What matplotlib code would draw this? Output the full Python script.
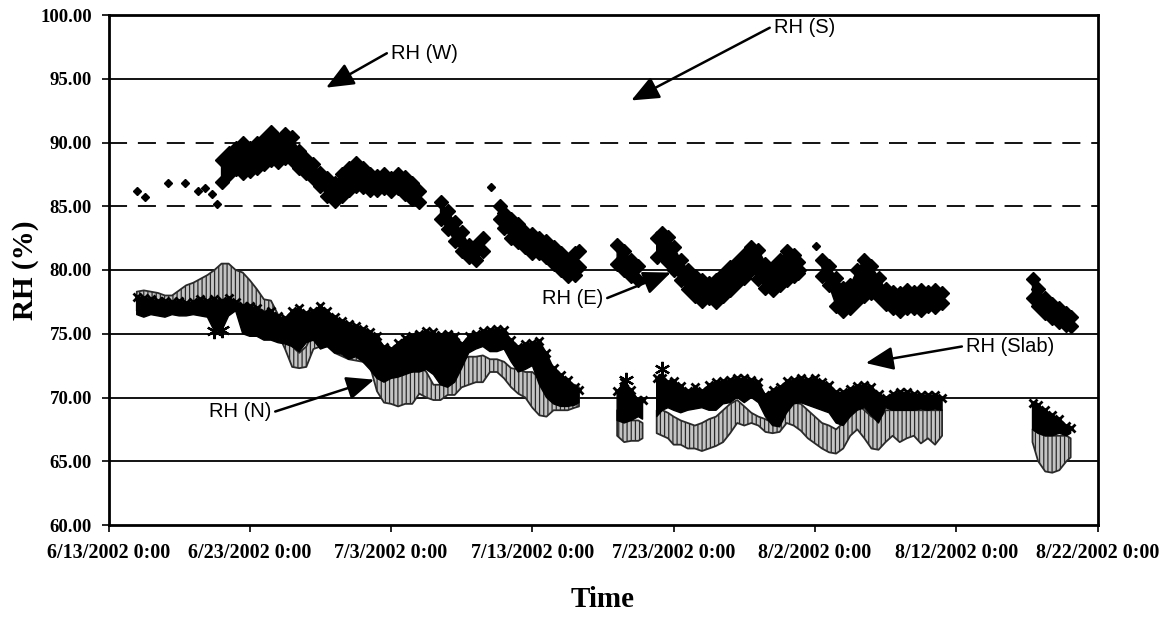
import datetime as dt
import numpy as np
import matplotlib
matplotlib.use('Agg')
import matplotlib.pyplot as plt
import matplotlib.dates as mdates
from matplotlib.ticker import FuncFormatter, FormatStrFormatter

nan = np.nan
start = dt.datetime(2002, 6, 13)

# ---- RH (E) : band (days after 6/13/2002 0:00) ----
e_day = [8.0, 8.5, 9.0, 9.5, 10.0, 10.5, 11.0, 11.5, 12.0, 12.5, 13.0, 13.5, 14.0, 14.5,
         15.0, 15.5, 16.0, 16.5, 17.0, 17.5, 18.0, 18.5, 19.0, 19.5, 20.0, 20.5, 21.0,
         21.5, 22.0, 22.7, 23.5, 24.0, 24.5, 25.0, 25.5, 26.0, 26.5, 27.1, 27.7, 28.0,
         28.5, 29.0, 29.5, 30.0, 30.5, 31.0, 31.5, 32.0, 32.5, 33.0, 33.3, 34.5, 36.0,
         36.5, 37.0, 37.5, 38.2, 38.8, 39.2, 39.6, 40.0, 40.5, 41.0, 41.5, 42.0, 42.5,
         43.0, 43.5, 44.0, 44.5, 45.0, 45.5, 46.0, 46.5, 47.0, 47.5, 48.0, 48.5, 48.8,
         49.6, 50.5, 51.0, 51.5, 52.0, 52.5, 53.0, 53.5, 54.0, 54.5, 55.0, 55.5, 56.0,
         56.5, 57.0, 57.5, 58.0, 58.5, 59.0, 62.0, 65.4, 65.8, 66.3, 66.8, 67.3, 67.8, 68.1]
e_hi = [88.6, 89.2, 89.6, 90.0, 89.6, 90.0, 90.3, 90.8, 90.2, 90.7, 90.4, 89.3, 88.7, 88.3,
        87.6, 87.2, 86.8, 87.5, 88.0, 88.4, 88.0, 87.5, 87.4, 87.5, 87.2, 87.5, 87.3,
        86.8, 86.2, nan, 85.3, 84.6, 83.8, 83.0, 82.0, 82.0, 82.5, nan, 85.0, 84.5,
        84.0, 83.6, 83.0, 82.8, 82.5, 82.3, 81.8, 81.3, 80.8, 81.3, 81.5, nan, 82.0,
        81.5, 80.8, 80.3, nan, 82.5, 82.9, 82.6, 81.8, 80.8, 80.0, 79.5, 79.2, 79.0,
        79.2, 79.7, 80.2, 80.6, 81.2, 81.8, 81.6, 80.5, 80.2, 80.8, 81.5, 81.2, 80.6,
        nan, 80.8, 80.3, 79.4, 78.6, 78.8, 80.0, 80.8, 80.3, 79.4, 78.5, 78.3, 78.2,
        78.4, 78.3, 78.4, 78.3, 78.4, 78.2, nan, 79.3, 78.5, 77.8, 77.3, 77.0, 76.6, 76.3]
e_lo = [86.9, 87.5, 87.9, 87.6, 87.8, 88.0, 88.3, 88.6, 88.5, 88.8, 88.6, 88.0, 87.6, 87.2,
        86.6, 85.8, 85.4, 85.8, 86.3, 86.6, 86.5, 86.3, 86.3, 86.4, 86.2, 86.4, 86.0,
        85.6, 85.3, nan, 84.0, 83.2, 82.3, 81.5, 81.0, 80.8, 81.5, nan, 84.0, 83.3,
        82.5, 82.2, 81.8, 81.3, 81.3, 81.0, 80.5, 80.0, 79.5, 79.6, 80.2, nan, 80.5,
        80.0, 79.5, 79.2, nan, 81.0, 81.2, 80.6, 80.0, 79.2, 78.5, 78.0, 77.6, 77.8,
        77.5, 78.0, 78.4, 79.0, 79.4, 80.0, 79.3, 78.6, 78.4, 78.8, 79.2, 79.5, 79.8,
        nan, 79.5, 78.8, 77.2, 76.8, 77.0, 77.6, 78.0, 78.2, 77.9, 77.3, 77.0, 76.8,
        77.0, 77.0, 76.9, 77.2, 77.1, 77.4, nan, 77.8, 77.2, 76.6, 76.2, 75.9, 75.7, 75.6]
e_dot_day = [2.0, 2.6, 4.2, 5.4, 6.3, 6.8, 7.3, 7.7, 27.1, 49.1, 50.1]
e_dot_val = [86.2, 85.7, 86.8, 86.8, 86.2, 86.4, 86.0, 85.2, 86.5, 80.0, 81.9]

# ---- RH (N) : lower black band ----
n_day = [2.0, 2.5, 3.0, 3.5, 4.0, 4.5, 5.0, 5.5, 6.0, 6.5, 7.0, 7.5, 8.0, 8.5, 9.0, 9.5,
         10.0, 10.5, 11.0, 11.5, 12.0, 12.5, 13.0, 13.5, 14.0, 14.5, 15.0, 15.5, 16.0,
         16.5, 17.0, 17.5, 18.0, 18.5, 19.0, 19.5, 20.0, 20.5, 21.0, 21.5, 22.0, 22.5,
         23.0, 23.5, 24.0, 24.5, 25.0, 25.5, 26.0, 26.5, 27.0, 27.5, 28.0, 28.5, 29.0,
         29.5, 30.0, 30.5, 31.0, 31.5, 32.0, 32.5, 33.0, 33.3, 34.5, 36.0, 36.5, 37.0,
         37.5, 37.8, 38.3, 38.8, 39.2, 39.6, 40.0, 40.5, 41.0, 41.5, 42.0, 42.5, 43.0,
         43.5, 44.0, 44.5, 45.0, 45.5, 46.0, 46.5, 47.0, 47.5, 48.0, 48.5, 49.0, 49.5,
         50.0, 50.5, 51.0, 51.5, 52.0, 52.5, 53.0, 53.5, 54.0, 54.5, 55.0, 55.5, 56.0,
         56.5, 57.0, 57.5, 58.0, 58.5, 59.0, 62.0, 65.4, 65.8, 66.3, 66.8, 67.3, 67.8, 68.1]
n_hi = [77.9, 77.8, 77.7, 77.6, 77.6, 77.5, 77.6, 77.4, 77.5, 77.7, 77.6, 77.7, 77.6, 77.8,
        77.5, 77.2, 77.2, 77.0, 76.6, 76.8, 76.4, 76.2, 76.8, 77.0, 76.6, 76.8, 77.2, 76.8,
        76.3, 76.0, 75.8, 75.6, 75.4, 75.1, 74.8, 74.0, 73.8, 74.3, 74.7, 74.8, 75.0, 75.2,
        75.1, 74.9, 75.0, 74.8, 74.2, 74.8, 75.0, 75.2, 75.3, 75.4, 75.3, 74.5, 74.0, 74.2,
        74.3, 74.4, 73.5, 72.3, 71.8, 71.4, 70.8, 70.6, nan, 70.5, 71.2, 70.6, 69.8, 69.8,
        nan, 71.5, 71.5, 71.2, 71.3, 70.9, 70.5, 70.8, 70.5, 71.0, 71.2, 71.3, 71.4, 71.5,
        71.5, 71.4, 71.2, 70.2, 70.6, 70.8, 71.3, 71.4, 71.5, 71.4, 71.5, 71.2, 71.0, 70.4,
        70.4, 70.7, 70.9, 71.0, 70.8, 70.3, 70.0, 70.3, 70.4, 70.4, 70.3, 70.2, 70.2, 70.2,
        70.0, nan, 69.6, 69.4, 69.0, 68.6, 68.3, 67.8, 67.6]
n_lo = [76.5, 76.3, 76.5, 76.4, 76.3, 76.5, 76.4, 76.4, 76.5, 76.4, 76.3, 75.2, 75.2, 76.4,
        76.8, 75.0, 74.8, 74.8, 74.5, 74.5, 74.3, 74.2, 74.0, 73.6, 74.3, 74.5, 73.8, 74.0,
        73.5, 73.4, 73.0, 73.2, 72.8, 72.2, 71.5, 71.2, 71.5, 71.6, 71.8, 72.0, 72.0, 72.2,
        71.8, 71.0, 70.8, 71.2, 72.3, 73.5, 73.8, 74.0, 73.6, 73.6, 73.8, 72.8, 72.0, 72.2,
        72.5, 71.0, 70.0, 69.5, 69.3, 69.3, 69.4, 69.6, nan, 68.2, 68.0, 68.2, 68.5, 68.3,
        nan, 68.5, 69.0, 69.2, 69.0, 68.8, 69.0, 69.1, 69.2, 69.0, 69.0, 69.5, 69.6, 70.0,
        69.6, 70.0, 69.6, 68.5, 67.8, 67.7, 68.8, 69.5, 69.6, 69.4, 69.2, 69.0, 68.8, 68.0,
        67.8, 68.5, 69.0, 69.2, 68.6, 68.0, 69.2, 69.0, 69.0, 69.0, 69.0, 69.1, 69.0, 69.1,
        69.0, nan, 67.5, 67.2, 67.0, 67.0, 67.2, 67.0, 67.2]
n_star_day = [7.5, 8.0, 36.6, 39.2]
n_star_val = [75.2, 75.3, 71.4, 72.2]

# ---- RH (Slab) : grey hatched band ----
s_day = [2.0, 2.5, 3.0, 3.5, 4.0, 4.5, 5.0, 5.5, 6.0, 6.5, 7.0, 7.5, 8.0, 8.5, 9.0, 9.5,
         10.0, 10.5, 11.0, 11.5, 12.0, 12.5, 13.0, 13.5, 14.0, 14.5, 15.0, 15.5, 16.0,
         17.0, 18.0, 18.5, 19.0, 19.5, 20.0, 20.5, 21.0, 21.5, 22.0, 22.5, 23.0, 23.5,
         24.0, 24.5, 25.0, 25.5, 26.0, 26.5, 27.0, 27.5, 28.0, 28.5, 29.0, 29.5, 30.0,
         30.5, 31.0, 31.5, 32.0, 32.5, 33.0, 33.3, 34.5, 36.0, 36.5, 37.0, 37.5, 37.8,
         38.3, 38.8, 39.2, 39.6, 40.0, 40.5, 41.0, 41.5, 42.0, 42.5, 43.0, 43.5, 44.0,
         44.5, 45.0, 45.5, 46.0, 46.5, 47.0, 47.5, 48.0, 48.5, 49.0, 49.5, 50.0, 50.5,
         51.0, 51.5, 52.0, 52.5, 53.0, 53.5, 54.0, 54.5, 55.0, 55.5, 56.0, 56.5, 57.0,
         57.5, 58.0, 58.5, 59.0, 62.0, 65.4, 65.8, 66.3, 66.8, 67.3, 67.8, 68.1]
s_hi = [78.3, 78.4, 78.3, 78.2, 78.0, 78.0, 78.4, 78.8, 79.0, 79.3, 79.6, 80.0, 80.5, 80.5,
        80.0, 79.8, 79.2, 78.5, 77.7, 77.6, 76.5, 75.0, 74.0, 73.5, 74.0, 75.2, 75.5, 75.5,
        75.0, 74.5, 74.0, 73.4, 72.5, 72.0, 71.8, 71.8, 72.2, 72.0, 72.5, 72.0, 71.0, 71.0,
        71.5, 72.0, 73.0, 73.2, 73.2, 73.3, 73.0, 73.0, 72.8, 72.3, 72.2, 72.0, 72.0, 71.5,
        71.0, 70.5, 70.3, 71.0, 71.0, 70.8, nan, 69.0, 68.5, 68.2, 68.2, 68.0, nan, 69.0,
        69.0, 68.8, 68.5, 68.2, 68.0, 67.8, 68.0, 68.3, 68.5, 69.0, 69.5, 69.8, 69.3, 68.8,
        68.5, 68.3, 68.0, 68.2, 69.5, 69.6, 69.5, 69.0, 68.5, 68.0, 67.8, 67.5, 68.0, 69.0,
        69.5, 69.0, 68.5, 68.2, 69.0, 69.0, 69.0, 69.0, 69.0, 69.0, 69.0, 69.0, 69.0, nan,
        67.5, 67.2, 67.0, 67.0, 67.0, 67.0, 66.8]
s_lo = [76.8, 77.0, 77.0, 77.0, 77.0, 77.0, 77.0, 77.2, 77.2, 77.3, 77.5, 77.5, 77.5, 77.5,
        77.5, 77.0, 77.0, 77.0, 76.8, 76.5, 75.0, 73.8, 72.4, 72.3, 72.4, 73.8, 74.0, 74.0,
        73.5, 73.0, 72.8, 72.5, 70.5, 69.6, 69.5, 69.3, 69.5, 69.5, 70.3, 70.0, 69.8, 69.8,
        70.2, 70.2, 70.8, 71.0, 71.2, 71.2, 72.0, 72.0, 71.5, 70.8, 70.3, 70.0, 69.2, 68.6,
        68.5, 69.0, 69.0, 69.0, 69.2, 69.3, nan, 67.0, 66.5, 66.6, 66.6, 66.8, nan, 67.2,
        67.0, 66.8, 66.3, 66.3, 66.0, 66.0, 65.8, 66.0, 66.2, 66.5, 67.2, 68.0, 67.8, 68.0,
        67.8, 67.3, 67.2, 67.3, 68.0, 67.8, 67.4, 66.8, 66.4, 66.0, 65.7, 65.6, 66.0, 67.0,
        67.5, 66.8, 66.0, 65.9, 66.5, 67.0, 66.5, 66.8, 67.0, 66.4, 66.8, 66.3, 67.0, nan,
        66.5, 65.0, 64.2, 64.1, 64.3, 65.0, 65.3]

y_ticks = [60, 65, 70, 75, 80, 85, 90, 95, 100]
x_tick_days = [0, 10, 20, 30, 40, 50, 60, 70]


def to_dates(days):
    return [start + dt.timedelta(days=float(d)) for d in days]


plt.rcParams['font.family'] = ['Liberation Serif', 'DejaVu Serif']
plt.rcParams['hatch.linewidth'] = 0.9

fig = plt.figure(figsize=(11.7, 6.19), dpi=100)
ax = fig.add_axes([108.5 / 1170, 1 - 525 / 619, 989 / 1170, 510 / 619])

# gridlines (85 and 90 look broken in the scan)
for v in y_ticks[1:-1]:
    if v in (85, 90):
        ax.axhline(v, color='k', lw=1.3, ls=(0, (10, 6)), zorder=1)
    else:
        ax.axhline(v, color='k', lw=1.3, zorder=1)

# RH (Slab) hatched grey
sx = to_dates(s_day)
ax.fill_between(sx, np.array(s_lo), np.array(s_hi), facecolor='#c4c4c4',
                edgecolor='#2a2a2a', hatch='||||', lw=1.3, zorder=2)

# RH (N) black
nx = to_dates(n_day)
ax.fill_between(nx, np.array(n_lo), np.array(n_hi), facecolor='k', edgecolor='k',
                lw=1.0, zorder=3)
ax.plot(nx, n_hi, ls='none', marker='x', ms=6, mew=2, color='k', zorder=3)
ax.plot(to_dates(n_star_day), n_star_val, ls='none', marker=(6, 2, 0), ms=11,
        mew=1.6, color='k', zorder=4)

# RH (E) black diamonds
ex = to_dates(e_day)
ax.fill_between(ex, np.array(e_lo), np.array(e_hi), facecolor='k', edgecolor='k',
                lw=1.0, zorder=3)
ax.plot(ex, e_hi, ls='none', marker='D', ms=7, color='k', zorder=3)
ax.plot(ex, e_lo, ls='none', marker='D', ms=7, color='k', zorder=3)
ax.plot(to_dates(e_dot_day), e_dot_val, ls='none', marker='D', ms=4, color='k', zorder=3)

# axes
ax.set_xlim(start, start + dt.timedelta(days=70))
ax.set_ylim(60, 100)
ax.set_yticks(y_ticks)
ax.yaxis.set_major_formatter(FormatStrFormatter('%.2f'))
ax.set_xticks(to_dates(x_tick_days))
ax.xaxis.set_major_formatter(FuncFormatter(
    lambda v, p: '{d.month}/{d.day}/{d.year} 0:00'.format(d=mdates.num2date(v))))
for s in ax.spines.values():
    s.set_linewidth(2)
ax.tick_params(axis='both', direction='out', length=5, width=1.2, pad=7,
               labelsize=13.5)
ax.tick_params(axis='x', labelsize=14.5, pad=8)
for lab in ax.get_xticklabels() + ax.get_yticklabels():
    lab.set_fontweight('bold')

ax.set_ylabel('RH (%)', fontsize=21, fontweight='bold')
ax.yaxis.set_label_coords(-0.0844, 0.5)
ax.yaxis.label.set_va('center')
ax.set_xlabel('Time', fontsize=21, fontweight='bold')
ax.xaxis.set_label_coords(0.5, -0.147)
ax.xaxis.label.set_va('center')

# annotations
arrow = dict(arrowstyle='-|>,head_length=1.3,head_width=0.55', color='k', lw=1.8,
             mutation_scale=13, shrinkA=0, shrinkB=0)
tfont = dict(family=['Liberation Sans', 'DejaVu Sans'], fontsize=14.5, va='center')

def label(text, tip, tail, side):
    ax.annotate('', xy=(start + dt.timedelta(days=tip[0]), tip[1]),
                xytext=(start + dt.timedelta(days=tail[0]), tail[1]),
                arrowprops=arrow, zorder=5)
    ax.text(start + dt.timedelta(days=tail[0] + (0.3 if side == 'left' else -0.3)),
            tail[1], text, ha=side, **tfont)

label('RH (W)', (15.4, 94.3), (19.7, 97.0), 'left')
label('RH (S)', (37.0, 93.3), (46.8, 99.0), 'left')
label('RH (E)', (39.8, 79.8), (35.3, 77.8), 'right')
label('RH (N)', (18.8, 71.4), (11.8, 68.9), 'right')
label('RH (Slab)', (53.6, 72.7), (60.4, 74.0), 'left')

fig.savefig('out.png', dpi=100)
